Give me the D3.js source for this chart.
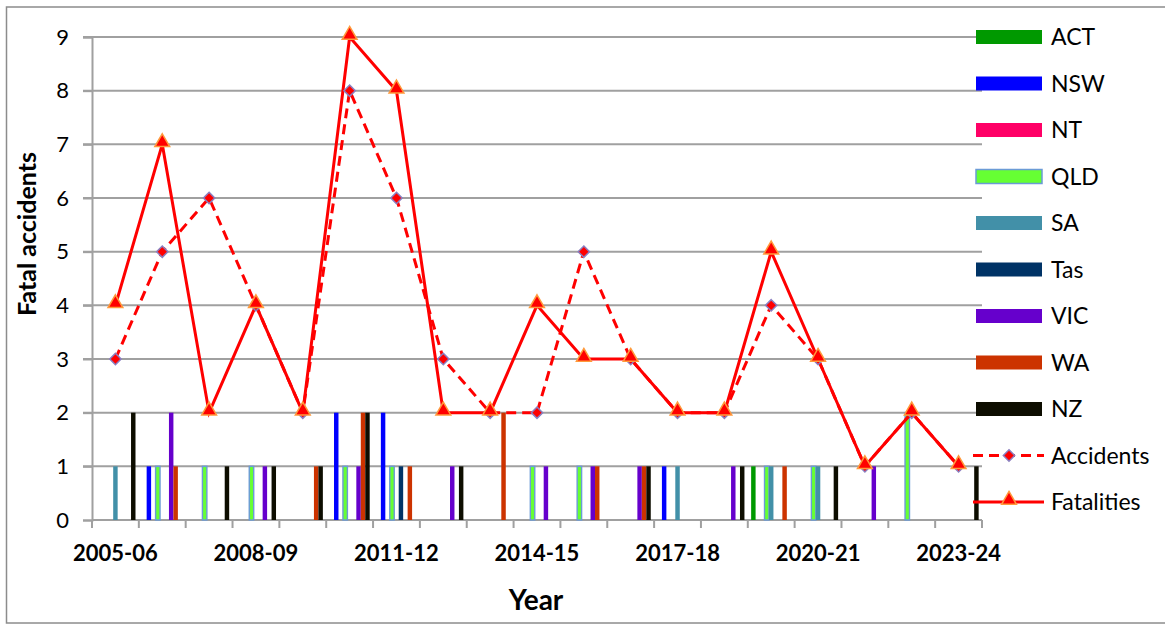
<!DOCTYPE html>
<html>

<head>
    <title>Fatal accidents by year</title>
    <script src="https://d3js.org/d3.v7.min.js"></script>
    <style>
        body {
            margin: 0;
            background: #fff;
        }

        text {
            font-family: Lato, "Open Sans", sans-serif;
            fill: #000;
        }

        .grid line {
            stroke: #a0a0a0;
            stroke-width: 2;
        }

        .axis-line {
            stroke: #a0a0a0;
            stroke-width: 2;
        }
    </style>
</head>

<body>
    <div id="graph"></div>
    <script>
        // year categories, one per financial year
        const years = ['2005-06', '2006-07', '2007-08', '2008-09', '2009-10', '2010-11', '2011-12',
            '2012-13', '2013-14', '2014-15', '2015-16', '2016-17', '2017-18', '2018-19',
            '2019-20', '2020-21', '2021-22', '2022-23', '2023-24'];

        const yTicks = [0, 1, 2, 3, 4, 5, 6, 7, 8, 9];

        // accidents per state, per year
        const states = ['ACT', 'NSW', 'NT', 'QLD', 'SA', 'Tas', 'VIC', 'WA', 'NZ'];
        const ACT = [0, 0, 0, 0, 0, 0, 0, 0, 0, 0, 0, 0, 0, 0, 1, 0, 0, 0, 0];
        const NSW = [0, 1, 0, 0, 0, 2, 2, 0, 0, 0, 0, 0, 1, 0, 0, 0, 0, 0, 0];
        const NT = [0, 0, 0, 0, 0, 0, 0, 0, 0, 0, 0, 0, 0, 0, 0, 0, 0, 0, 0];
        const QLD = [0, 1, 1, 1, 0, 1, 1, 0, 0, 1, 1, 0, 0, 0, 1, 1, 0, 2, 0];
        const SA = [1, 0, 0, 0, 0, 0, 0, 0, 0, 0, 0, 0, 1, 0, 1, 1, 0, 0, 0];
        const Tas = [0, 0, 0, 0, 0, 0, 1, 0, 0, 0, 0, 0, 0, 0, 0, 0, 0, 0, 0];
        const VIC = [0, 2, 0, 1, 0, 1, 0, 1, 0, 1, 1, 1, 0, 1, 0, 0, 1, 0, 0];
        const WA = [0, 1, 0, 0, 1, 2, 1, 0, 2, 0, 1, 1, 0, 0, 1, 0, 0, 0, 0];
        const NZ = [2, 0, 1, 1, 1, 2, 0, 1, 0, 0, 0, 1, 0, 1, 0, 1, 0, 0, 1];

        // totals (lines)
        const accidents = [3, 5, 6, 4, 2, 8, 6, 3, 2, 2, 5, 3, 2, 2, 4, 3, 1, 2, 1];
        const fatalities = [4, 7, 2, 4, 2, 9, 8, 2, 2, 4, 3, 3, 2, 2, 5, 3, 1, 2, 1];

        const stateValues = { ACT, NSW, NT, QLD, SA, Tas, VIC, WA, NZ };
        const stateColors = {
            ACT: '#009900', NSW: '#0000ff', NT: '#ff0066', QLD: '#66ff33', SA: '#4290a8',
            Tas: '#003366', VIC: '#6600cc', WA: '#cc3300', NZ: '#0d0d00'
        };

        const W = 1165, H = 626;
        const margin = { top: 37, right: 183, bottom: 106, left: 92 };
        const width = W - margin.left - margin.right,
            height = H - margin.top - margin.bottom;

        const svg = d3.select('#graph').append('svg')
            .attr('width', W)
            .attr('height', H);

        // outer chart border
        svg.append('rect')
            .attr('x', 6.5).attr('y', 7)
            .attr('width', W + 10).attr('height', H - 10)
            .attr('fill', 'none')
            .attr('stroke', '#8c8c8c')
            .attr('stroke-width', 1.5);

        const g = svg.append('g')
            .attr('transform', 'translate(' + margin.left + ',' + margin.top + ')');

        const x0 = d3.scaleBand().domain(years).range([0, width]).padding(0);
        const x1 = d3.scaleBand().domain(states).range([0, x0.bandwidth()])
            .paddingInner(0).paddingOuter(0.75);
        const y = d3.scaleLinear().domain([0, 9]).range([height, 0]);

        // horizontal gridlines
        g.append('g')
            .attr('class', 'grid')
            .selectAll('line')
            .data(yTicks.slice(1))
            .enter().append('line')
            .attr('x1', -9).attr('x2', width)
            .attr('y1', d => y(d)).attr('y2', d => y(d));

        // y axis
        const yAxis = g.append('g')
            .call(d3.axisLeft(y).tickValues(yTicks).tickSize(9).tickPadding(14));
        yAxis.select('.domain').attr('stroke', '#a0a0a0').attr('stroke-width', 2);
        yAxis.selectAll('.tick line').attr('stroke', '#a0a0a0').attr('stroke-width', 2);
        yAxis.selectAll('.tick text')
            .style('font-size', '22px')
            .attr('fill', '#000');

        // x axis line + tick marks at category boundaries
        g.append('line')
            .attr('class', 'axis-line')
            .attr('x1', 0).attr('x2', width)
            .attr('y1', height).attr('y2', height);

        g.append('g')
            .selectAll('line')
            .data(years.concat(['end']))
            .enter().append('line')
            .attr('class', 'axis-line')
            .attr('x1', (d, i) => i < years.length ? x0(d) : width)
            .attr('x2', (d, i) => i < years.length ? x0(d) : width)
            .attr('y1', height).attr('y2', height + 8);

        // every third year is labelled
        g.append('g')
            .selectAll('text')
            .data(years.filter((d, i) => i % 3 === 0))
            .enter().append('text')
            .attr('x', d => x0(d) + x0.bandwidth() / 2)
            .attr('y', height + 41)
            .attr('text-anchor', 'middle')
            .style('font-size', '22px')
            .style('font-weight', 'bold')
            .text(d => d);

        // state bars
        const bars = [];
        states.forEach(s => {
            stateValues[s].forEach((v, i) => {
                if (v > 0) bars.push({ state: s, year: years[i], value: v });
            });
        });

        g.append('g')
            .selectAll('rect')
            .data(bars)
            .enter().append('rect')
            .attr('x', d => x0(d.year) + x1(d.state))
            .attr('y', d => y(d.value))
            .attr('width', x1.bandwidth())
            .attr('height', d => height - y(d.value))
            .attr('fill', d => stateColors[d.state])
            .attr('stroke', d => d.state === 'QLD' ? '#6b9bd6' : 'none')
            .attr('stroke-width', 1.4);

        // lines
        const cx = i => x0(years[i]) + x0.bandwidth() / 2;
        const line = d3.line().x((d, i) => cx(i)).y(d => y(d));

        const diamond = {
            draw(ctx, size) {
                const r = Math.sqrt(size / 2);
                ctx.moveTo(0, -r); ctx.lineTo(r, 0); ctx.lineTo(0, r); ctx.lineTo(-r, 0); ctx.closePath();
            }
        };
        const diamondPath = d3.symbol(diamond, 64)();
        const trianglePath = d3.symbol(d3.symbolTriangle, 95)();

        g.append('path')
            .datum(accidents)
            .attr('d', line)
            .attr('fill', 'none')
            .attr('stroke', '#ff0000')
            .attr('stroke-width', 3)
            .attr('stroke-dasharray', '10,6');

        g.append('path')
            .datum(fatalities)
            .attr('d', line)
            .attr('fill', 'none')
            .attr('stroke', '#ff0000')
            .attr('stroke-width', 3);

        g.append('g')
            .selectAll('path')
            .data(accidents)
            .enter().append('path')
            .attr('transform', (d, i) => 'translate(' + cx(i) + ',' + y(d) + ')')
            .attr('d', diamondPath)
            .attr('fill', '#ff0000')
            .attr('stroke', '#8a7fc0')
            .attr('stroke-width', 1.5);

        g.append('g')
            .selectAll('path')
            .data(fatalities)
            .enter().append('path')
            .attr('transform', (d, i) => 'translate(' + cx(i) + ',' + (y(d) - 2) + ')')
            .attr('d', trianglePath)
            .attr('fill', '#ff0000')
            .attr('stroke', '#ff9a3c')
            .attr('stroke-width', 1.5);

        // axis titles
        svg.append('text')
            .attr('transform', 'translate(36,234) rotate(-90)')
            .attr('text-anchor', 'middle')
            .style('font-size', '25px')
            .style('font-weight', 'bold')
            .text('Fatal accidents');

        svg.append('text')
            .attr('x', 536)
            .attr('y', 610)
            .attr('text-anchor', 'middle')
            .style('font-size', '28px')
            .style('font-weight', 'bold')
            .text('Year');

        // legend
        const legend = svg.append('g')
            .attr('transform', 'translate(976,37)');
        const legendItems = states.concat(['Accidents', 'Fatalities']);
        const item = legend.selectAll('g')
            .data(legendItems)
            .enter().append('g')
            .attr('transform', (d, i) => 'translate(0,' + i * 46.5 + ')');

        item.filter(d => stateColors[d])
            .append('rect')
            .attr('x', 0).attr('y', -7)
            .attr('width', 66).attr('height', 14)
            .attr('fill', d => stateColors[d])
            .attr('stroke', d => d === 'QLD' ? '#6b9bd6' : 'none')
            .attr('stroke-width', 1.5);

        item.filter(d => d === 'Accidents' || d === 'Fatalities')
            .append('line')
            .attr('x1', -3).attr('x2', 68)
            .attr('y1', 0).attr('y2', 0)
            .attr('stroke', '#ff0000')
            .attr('stroke-width', 3)
            .attr('stroke-dasharray', d => d === 'Accidents' ? '10,6' : null);

        item.filter(d => d === 'Accidents')
            .append('path')
            .attr('transform', 'translate(33,0)')
            .attr('d', diamondPath)
            .attr('fill', '#ff0000')
            .attr('stroke', '#8a7fc0')
            .attr('stroke-width', 1.5);

        item.filter(d => d === 'Fatalities')
            .append('path')
            .attr('transform', 'translate(33,-2)')
            .attr('d', trianglePath)
            .attr('fill', '#ff0000')
            .attr('stroke', '#ff9a3c')
            .attr('stroke-width', 1.5);

        item.append('text')
            .attr('x', 75)
            .attr('y', 0)
            .attr('dy', '0.35em')
            .style('font-size', '23px')
            .text(d => d);
    </script>
</body>

</html>
